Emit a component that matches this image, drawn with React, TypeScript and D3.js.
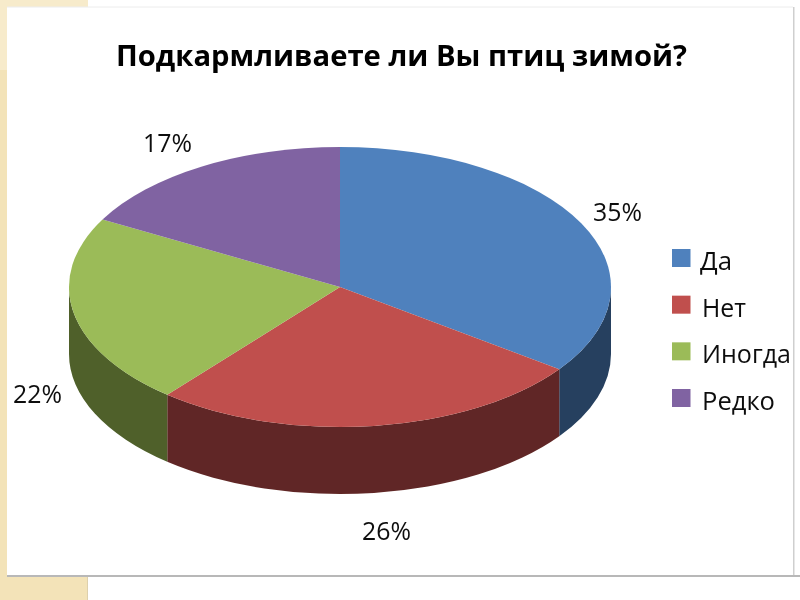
import React from "react";
import * as d3 from "d3";

const categories = ["Да", "Нет", "Иногда", "Редко"];
const values = [35, 26, 22, 17];
const topColors = ["#4F81BD", "#C0504D", "#9BBB59", "#8064A2"];
const sideColors = ["#27405F", "#612725", "#4F602B", "#40325A"];
const labelAnchors = [
  { x: 617.5, y: 221 },
  { x: 386.5, y: 540 },
  { x: 37.5, y: 403 },
  { x: 167.5, y: 152 },
];
const legendTextX = [700, 702, 702, 702];
const legendTextW = [32, 44, 89, 73];

const W = 800, H = 600;
const cx = 340, cy = 287, rx = 271, ry = 140, depth = 67;
const FONT = "'Open Sans', 'Noto Sans', sans-serif";

const pie = d3.pie<number>().value((d) => d).sort(null);
const arcs = pie(values);
const arcGen = d3.arc<d3.PieArcDatum<number>>().innerRadius(0).outerRadius(rx);
const legendY = d3.scalePoint<string>().domain(categories).range([258, 398]);

const pt = (a: number): [number, number] => [
  cx + rx * Math.sin(a),
  cy - ry * Math.cos(a),
];

function sidePath(a0: number, a1: number): string | null {
  const s = Math.max(a0, Math.PI / 2);
  const e = Math.min(a1, (3 * Math.PI) / 2);
  if (e <= s) return null;
  const [x0, y0] = pt(s);
  const [x1, y1] = pt(e);
  return `M${x0},${y0}A${rx},${ry} 0 0 1 ${x1},${y1}L${x1},${y1 + depth}A${rx},${ry} 0 0 0 ${x0},${y0 + depth}Z`;
}

export default function App() {
  return (
    <svg
      width={W}
      height={H}
      viewBox={`0 0 ${W} ${H}`}
      style={{ position: "absolute", left: 0, top: 0, display: "block" }}
    >
      <defs>
        <filter id="soft" x="-5%" y="-5%" width="110%" height="110%">
          <feGaussianBlur stdDeviation="0.5" />
        </filter>
      </defs>
      <rect width={W} height={H} fill="#ffffff" />
      <rect x={0} y={0} width={88} height={600} fill="#F3E3B8" />
      <rect x={0} y={0} width={88} height={70} fill="#F7EBCB" />
      <rect x={87} y={577} width={1} height={23} fill="#DDD0AC" />
      <rect x={7} y={575} width={793} height={2} fill="#b8b8b8" />
      <rect x={793} y={7} width={1.5} height={568} fill="#cfcfcf" />
      <rect x={7} y={7} width={786} height={568} fill="#ffffff" />
      <line x1={7} y1={7} x2={793} y2={7} stroke="#ececec" />

      <g filter="url(#soft)">
        <text
          x={401.5}
          y={66}
          textAnchor="middle"
          fontFamily={FONT}
          fontWeight={700}
          fontSize={29}
          textLength={571}
          lengthAdjust="spacingAndGlyphs"
          fill="#000"
        >
          Подкармливаете ли Вы птиц зимой?
        </text>

        {arcs.map((d, i) => {
          const p = sidePath(d.startAngle, d.endAngle);
          return p ? <path key={i} d={p} fill={sideColors[i]} /> : null;
        })}
        <g transform={`translate(${cx},${cy}) scale(1,${ry / rx})`}>
          {arcs.map((d, i) => (
            <path key={i} d={arcGen(d) ?? ""} fill={topColors[i]} />
          ))}
        </g>

        {values.map((v, i) => (
          <text
            key={i}
            x={labelAnchors[i].x}
            y={labelAnchors[i].y}
            textAnchor="middle"
            fontFamily={FONT}
            fontSize={25}
            textLength={49}
            lengthAdjust="spacingAndGlyphs"
            fill="#111"
          >
            {v}%
          </text>
        ))}

        {categories.map((c, i) => {
          const y = legendY(c) as number;
          return (
            <g key={c}>
              <rect x={672} y={y - 9} width={18.5} height={18} fill={topColors[i]} />
              <text
                x={legendTextX[i]}
                y={y + 12}
                fontFamily={FONT}
                fontSize={25.5}
                fill="#111"
                textLength={legendTextW[i]}
                lengthAdjust="spacingAndGlyphs"
              >
                {c}
              </text>
            </g>
          );
        })}
      </g>
    </svg>
  );
}
